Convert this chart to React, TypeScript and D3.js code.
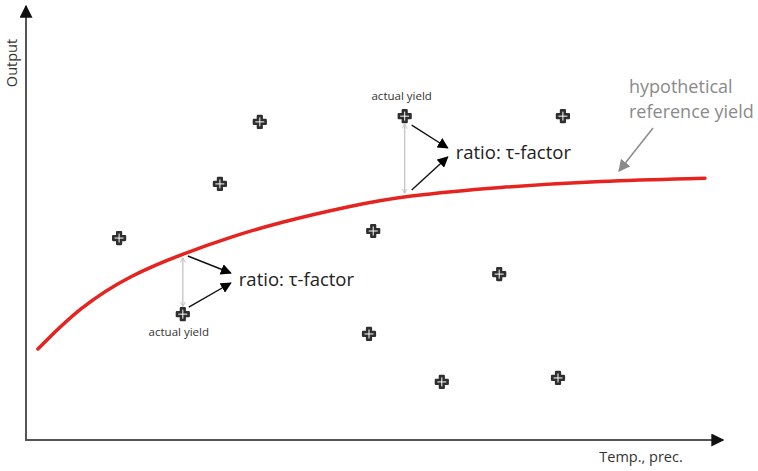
import React from "react";
import * as d3 from "d3";

const W = 758;
const H = 471;

// reference curve (data units)
const curveX = [0.17, 0.77, 1.49, 2.27, 2.91, 3.63, 4.63, 5.41, 6.77, 8.2, 9.7];
const curveY = [2.07, 3.02, 3.75, 4.25, 4.61, 4.95, 5.32, 5.55, 5.75, 5.89, 5.95];

// observed yields
const obsX = [1.33, 2.77, 3.34, 2.24, 4.96, 4.9, 5.41, 6.76, 5.94, 7.6, 7.67];
const obsY = [4.59, 5.82, 7.23, 2.86, 4.75, 2.41, 7.36, 3.77, 1.32, 1.41, 7.36];

const xLabel = "Temp., prec.";
const yLabel = "Output";
const ratioLabel = "ratio: τ-factor";
const actualLabel = "actual yield";
const refLabel = ["hypothetical", "reference yield"];

const FONT = "'Open Sans', 'Liberation Sans', sans-serif";

function Marker({ x, y }: { x: number; y: number }) {
  const cross = d3.symbol().type(d3.symbolCross).size(80)();
  return (
    <g transform={`translate(${x},${y})`}>
      <path d={cross || ""} fill="#2f2f2f" stroke="#2f2f2f" strokeWidth={2.2} strokeLinejoin="round" />
      <line x1={-4.5} x2={4.5} y1={0} y2={0} stroke="#fff" strokeWidth={1} />
      <line x1={0} x2={0} y1={-4.5} y2={4.5} stroke="#fff" strokeWidth={1} />
    </g>
  );
}

export default function App() {
  const x = d3.scaleLinear().domain([0, 10]).range([26, 726]);
  const y = d3.scaleLinear().domain([0, 10]).range([440, 0]);

  const line = d3
    .line<number>()
    .x((_, i) => x(curveX[i]))
    .y((d) => y(d))
    .curve(d3.curveBasis);

  const lowIdx = 3;
  const highIdx = 6;
  const lx = x(obsX[lowIdx]);
  const ly = y(obsY[lowIdx]);
  const hx = x(obsX[highIdx]);
  const hy = y(obsY[highIdx]);

  return (
    <svg width={W} height={H} style={{ position: "absolute", left: 0, top: 0, background: "#fff" }}>
      <defs>
        <marker id="ah" viewBox="0 0 10 10" refX="9" refY="5" markerWidth="11" markerHeight="11" markerUnits="userSpaceOnUse" orient="auto">
          <path d="M0,0 L10,5 L0,10 z" fill="#000" />
        </marker>
        <marker id="bh" viewBox="0 0 10 10" refX="9" refY="5" markerWidth="13" markerHeight="13" markerUnits="userSpaceOnUse" orient="auto">
          <path d="M0,0 L10,5 L0,10 z" fill="#111" />
        </marker>
        <marker id="gh" viewBox="0 0 10 10" refX="9" refY="5" markerWidth="5" markerHeight="6" markerUnits="userSpaceOnUse" orient="auto-start-reverse">
          <path d="M0,0 L10,5 L0,10" fill="none" stroke="#c4c4c4" strokeWidth={2} />
        </marker>
        <marker id="rh" viewBox="0 0 10 10" refX="9" refY="5" markerWidth="12" markerHeight="12" markerUnits="userSpaceOnUse" orient="auto">
          <path d="M0,0 L10,5 L0,10 z" fill="#8a8a8a" />
        </marker>
      </defs>

      {/* axes */}
      <line x1={26} y1={441} x2={26} y2={6} stroke="#555" strokeWidth={2} markerEnd="url(#bh)" />
      <line x1={25} y1={440} x2={723} y2={440} stroke="#555" strokeWidth={2} markerEnd="url(#bh)" />
      <text x={0} y={0} transform="translate(16.5,63) rotate(-90)" textAnchor="middle" fontFamily={FONT} fontSize={14.5} fill="#333">
        {yLabel}
      </text>
      <text x={641} y={462} textAnchor="middle" fontFamily={FONT} fontSize={14.5} fill="#333">
        {xLabel}
      </text>

      {/* reference curve */}
      <path d={line(curveY) || ""} fill="none" stroke="#e52420" strokeWidth={3.5} strokeLinecap="round" />

      {/* points */}
      {obsX.map((d, i) => (
        <Marker key={i} x={x(d)} y={y(obsY[i])} />
      ))}

      {/* lower annotation */}
      <line x1={lx} y1={ly - 8} x2={lx} y2={258} stroke="#c4c4c4" strokeWidth={1.3} markerStart="url(#gh)" markerEnd="url(#gh)" />
      <line x1={lx + 5} y1={256} x2={lx + 48} y2={273} stroke="#111" strokeWidth={1.4} markerEnd="url(#ah)" />
      <line x1={lx + 6} y1={ly - 7} x2={lx + 48} y2={283} stroke="#111" strokeWidth={1.4} markerEnd="url(#ah)" />
      <text x={lx + 56} y={285.5} fontFamily={FONT} fontSize={18.5} fill="#222">
        {ratioLabel}
      </text>
      <text x={lx - 4} y={ly + 22} textAnchor="middle" fontFamily={FONT} fontSize={11.5} fill="#333">
        {actualLabel}
      </text>

      {/* upper annotation */}
      <line x1={hx} y1={hy + 8} x2={hx} y2={193} stroke="#c4c4c4" strokeWidth={1.3} markerStart="url(#gh)" markerEnd="url(#gh)" />
      <line x1={hx + 7} y1={hy + 9} x2={hx + 43} y2={148} stroke="#111" strokeWidth={1.4} markerEnd="url(#ah)" />
      <line x1={hx + 7} y1={190} x2={hx + 43} y2={157} stroke="#111" strokeWidth={1.4} markerEnd="url(#ah)" />
      <text x={hx + 51} y={159} fontFamily={FONT} fontSize={18.5} fill="#222">
        {ratioLabel}
      </text>
      <text x={hx - 3} y={hy - 16} textAnchor="middle" fontFamily={FONT} fontSize={11.5} fill="#333">
        {actualLabel}
      </text>

      {/* reference label */}
      <text x={629} y={93} fontFamily={FONT} fontSize={18} fill="#8a8a8a">
        {refLabel[0]}
      </text>
      <text x={629} y={118} fontFamily={FONT} fontSize={18} fill="#8a8a8a">
        {refLabel[1]}
      </text>
      <line x1={653} y1={128} x2={619} y2={171} stroke="#8a8a8a" strokeWidth={1.5} markerEnd="url(#rh)" />
    </svg>
  );
}
